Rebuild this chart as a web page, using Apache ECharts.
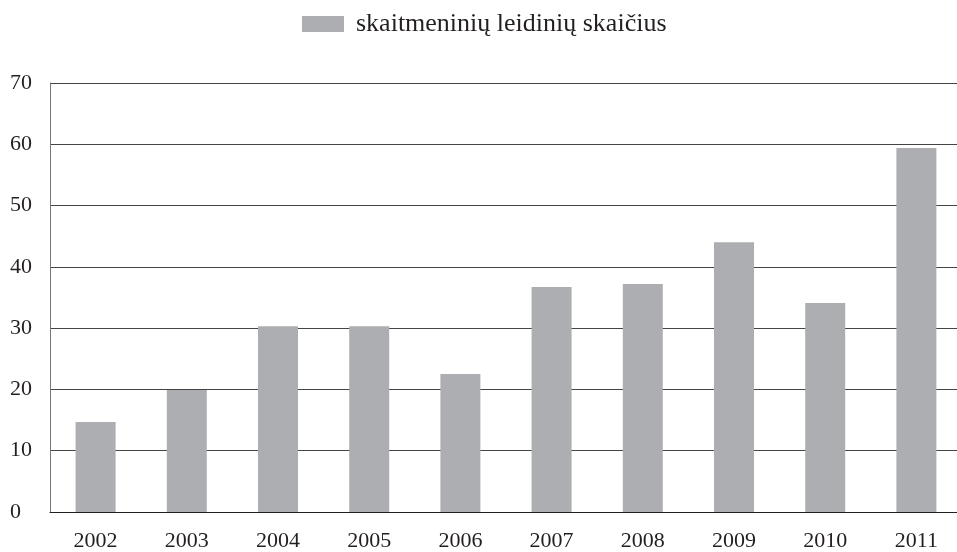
<!DOCTYPE html>
<html>
<head>
<meta charset="utf-8">
<script src="https://cdn.jsdelivr.net/npm/echarts@6/dist/echarts.min.js"></script>
<style>
  html, body { margin: 0; padding: 0; background: #fff; overflow: hidden; }
  #chart { width: 962px; height: 552px; }
</style>
</head>
<body>
<div id="chart"></div>
<script>
  // duomenys
  const years = ['2002', '2003', '2004', '2005', '2006', '2007', '2008', '2009', '2010', '2011']
  const counts = [14.7, 19.9, 30.3, 30.3, 22.5, 36.7, 37.2, 44, 34.1, 59.4]
  const seriesName = 'skaitmeninių leidinių skaičius'

  const font = 'Liberation Serif'
  const chart = echarts.init(document.getElementById('chart'))
  chart.setOption({
    animation: false,
    legend: {
      top: 6,
      left: 297,
      itemWidth: 42,
      itemHeight: 16,
      icon: 'rect',
      textStyle: { fontFamily: font, fontSize: 26, color: '#231f20', padding: [0, 0, 0, 7] },
      data: [seriesName]
    },
    grid: { left: 50, right: 0, top: 83, bottom: 40 },
    xAxis: {
      type: 'category',
      data: years,
      axisLine: { lineStyle: { color: '#231f20', width: 1 } },
      axisTick: { show: false },
      axisLabel: { fontFamily: font, fontSize: 22, color: '#231f20', margin: 18 }
    },
    yAxis: {
      type: 'value',
      min: 0,
      max: 70,
      interval: 10,
      axisLine: { show: true, lineStyle: { color: '#777', width: 1 } },
      axisTick: { show: false },
      axisLabel: { fontFamily: font, fontSize: 22, color: '#231f20', align: 'left', margin: 40 },
      splitLine: { lineStyle: { color: '#444', width: 1 } }
    },
    series: [{
      name: seriesName,
      type: 'bar',
      data: counts,
      barWidth: 40,
      itemStyle: { color: '#adaeb1' }
    }]
  })
</script>
</body>
</html>
